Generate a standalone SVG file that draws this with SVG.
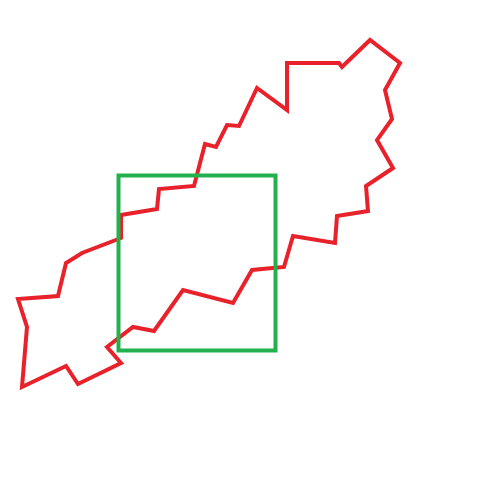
<svg xmlns="http://www.w3.org/2000/svg" width="495" height="500" viewBox="0 0 495 500">
<style>
.red{fill:none;stroke:#e8212b;stroke-width:4;stroke-linejoin:miter;stroke-miterlimit:10}
.green{fill:none;stroke:#22b14c;stroke-width:4}
</style>
<rect width="495" height="500" fill="#ffffff"/>
<g id="outline">
<polygon class="red" points="121,238 121,215 157,209 159,189 194,186 205,144 216,147 227,125 239,126 257,88 287,110 287,63 339,63 342,67 370,40 400,63 385,90 392,119 377,140 393,168 366,186 368,211 337,216 335,243 293,236 284,267 252,270 233,303 183,290 154,331 133,327 107,347 121,363 78,384 66,366 22,387 27,327 18,299 58,296 66,263 82,253"/>
</g>
<g id="box">
<rect class="green" x="118.5" y="175.5" width="157" height="175"/>
</g>
</svg>
